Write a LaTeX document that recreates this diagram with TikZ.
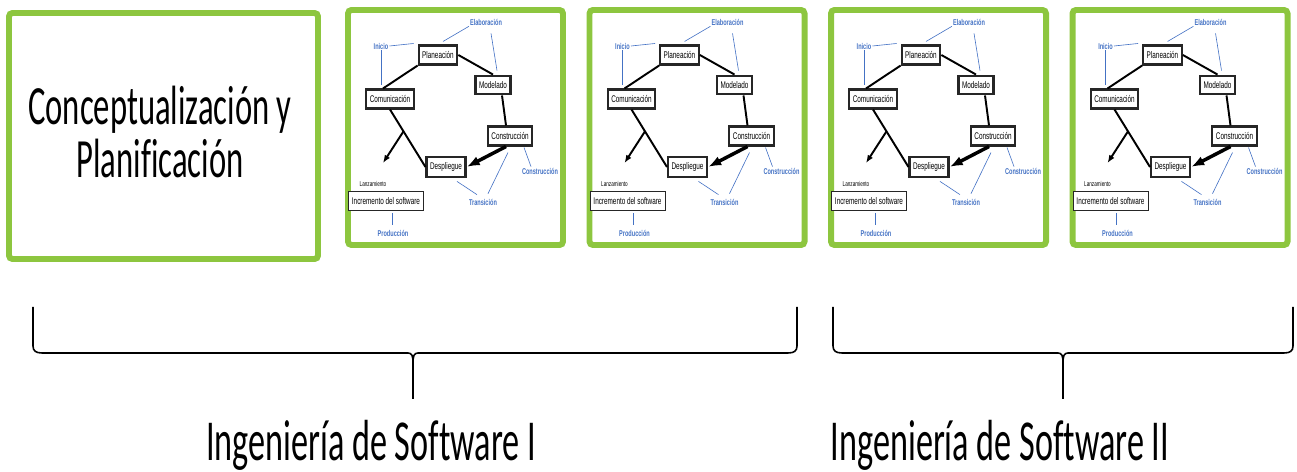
\documentclass[tikz,border=0pt]{standalone}
\usepackage{fontspec}
\setmainfont[FakeStretch=0.59, Ligatures=CommonOff]{Carlito}
\newfontfamily\chica[FakeStretch=0.66]{Liberation Sans}
\usetikzlibrary{arrows.meta,calc}
\definecolor{MarcoVerde}{HTML}{8DC63F}
\definecolor{EtiquetaAzul}{HTML}{4472C4}

\tikzset{
  marco/.style={draw=MarcoVerde, line width=3.4pt, rounded corners=2pt},
  etapa/.style={draw=black!85, line width=1.2pt, fill=white, inner xsep=2pt,
    minimum height=10.5pt, font=\chica\fontsize{5.5}{6}\selectfont},
  fase/.style={text=EtiquetaAzul, inner sep=0.5pt,
    font=\chica\bfseries\fontsize{4.8}{5}\selectfont},
  enlace/.style={draw=EtiquetaAzul, line width=0.35pt},
  flujo/.style={line width=1.1pt},
  llave/.style={line width=0.9pt},
}

\begin{document}
\begin{tikzpicture}[x=0.02cm, y=-0.02cm]
  \useasboundingbox (0,0) rectangle (1297,472);

  % primera etapa
  \draw[marco] (9,13) rectangle (318,259);
  \node[align=center, font=\fontsize{31.5}{30}\selectfont] (concep) at (160,132)
    {Conceptualización y\\Planif\kern0pt icación};

  % los cuatro ciclos
  \foreach \k in {0,...,3} {
    \pgfmathsetmacro\dx{\k*241.5}
    \draw[marco] ({\dx+348},10) rectangle ({\dx+563},245);
    \node[etapa] (pl\k) at ({\dx+438},55) {Planeación};
    \node[etapa] (co\k) at ({\dx+390},99) {Comunicación};
    \node[etapa] (mo\k) at ({\dx+493},85) {Modelado};
    \node[etapa] (cn\k) at ({\dx+510},136) {Construcción};
    \node[etapa] (de\k) at ({\dx+446},167) {Despliegue};
    \node[etapa, line width=0.5pt] (in\k) at ({\dx+386},201) {Incremento del software};
    \node[inner sep=0.5pt, font=\chica\fontsize{4}{4}\selectfont] (la\k) at ({\dx+373},184) {Lanzamiento};
    \node[fase] (ini\k) at ({\dx+381},46) {Inicio};
    \node[fase] (ela\k) at ({\dx+486},22) {Elaboración};
    \node[fase] (cst\k) at ({\dx+540},171) {Construcción};
    \node[fase] (tra\k) at ({\dx+483},202) {Transición};
    \node[fase] (pro\k) at ({\dx+393},233) {Producción};
    \coordinate (sal\k) at ({\dx+383},163);
    % ciclo
    \draw[flujo] (pl\k.south west) -- ($(co\k.north)+(-7,0)$);
    \draw[flujo] (pl\k.east) -- (mo\k.north);
    \draw[flujo] ($(mo\k.south)+(9,0)$) -- ($(cn\k.north)+(-4,0)$);
    \draw[flujo, line width=2pt, -{Latex[length=7.5pt,width=5.5pt]}] ($(cn\k.south)+(-4,0)$) -- (de\k.east);
    \draw[flujo] (co\k.south) -- (de\k.west);
    \draw[flujo, -{Latex[length=4.5pt,width=3.5pt]}] ($(co\k.south)!0.38!(de\k.west)$) -- (sal\k);
    % fases
    \draw[enlace] (ini\k.east) -- ($(pl\k.north west)+(-4,-1)$);
    \draw[enlace] (ini\k.south) -- ($(ini\k.south |- co\k.north)+(0,-3)$);
    \draw[enlace] (ela\k.south west) -- ($(pl\k.north)+(5,-3)$);
    \draw[enlace] ($(ela\k.south)+(5,7)$) -- ($(mo\k.north)+(4,-4)$);
    \draw[enlace] ($(cn\k.south)+(14,1)$) -- ($(cst\k.north)+(-9,0)$);
    \draw[enlace] ($(de\k.south)+(11,3)$) -- ($(tra\k.north)+(-6,-3)$);
    \draw[enlace] ($(cn\k.south)+(-2,6)$) -- ($(tra\k.north)+(5,-4)$);
    \draw[enlace] ($(in\k.south)+(6,2)$) -- ($(pro\k.north)+(-1,-4)$);
  }

  % llaves
  \foreach \xa/\xm/\xb/\xt/\nombre/\texto in
    {33/413/797/371/isw1/{Ingeniería de Software I},
     833/1063/1293/1000/isw2/{Ingeniería de Software II}} {
    \draw[llave] (\xa,307) -- (\xa,346) .. controls (\xa,351) and ({\xa+3},353) .. ({\xa+9},353)
      -- ({\xm-5},353) .. controls ({\xm-1},353) and (\xm,356) .. (\xm,363) -- (\xm,399);
    \draw[llave] (\xm,363) .. controls (\xm,356) and ({\xm+1},353) .. ({\xm+5},353)
      -- ({\xb-9},353) .. controls ({\xb-3},353) and (\xb,351) .. (\xb,346) -- (\xb,307);
    \node[anchor=base, font=\fontsize{33}{34}\selectfont] (\nombre) at (\xt,460) {\texto};
  }
\end{tikzpicture}
\end{document}
